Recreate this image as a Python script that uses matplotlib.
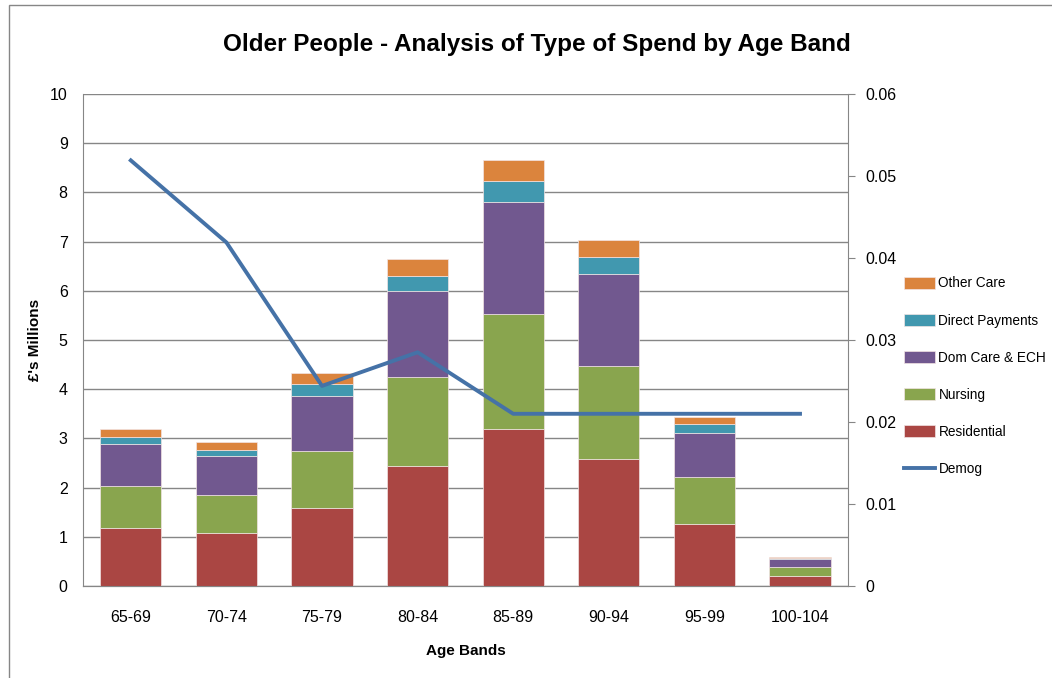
import matplotlib
matplotlib.use('agg')
import matplotlib.pyplot as plt
import numpy as np
from matplotlib.patches import Rectangle

ageBands = ['65-69', '70-74', '75-79', '80-84', '85-89', '90-94', '95-99', '100-104']
residential = [1.18, 1.08, 1.59, 2.44, 3.19, 2.59, 1.27, 0.21]
nursing = [0.85, 0.77, 1.16, 1.80, 2.33, 1.88, 0.94, 0.18]
domCare = [0.85, 0.80, 1.12, 1.76, 2.28, 1.87, 0.90, 0.15]
directPayments = [0.15, 0.12, 0.23, 0.31, 0.43, 0.34, 0.18, 0.035]
otherCare = [0.16, 0.16, 0.22, 0.34, 0.42, 0.35, 0.15, 0.02]
demog = [0.0519, 0.0419, 0.0244, 0.0285, 0.021, 0.021, 0.021, 0.021]

plt.rcParams['font.family'] = ['Liberation Sans', 'DejaVu Sans']

fig = plt.figure(figsize=(10.52, 6.78), dpi=100)
ax = fig.add_axes([0.0789, 0.1357, 0.727, 0.7257])
ax2 = ax.twinx()

x = np.arange(len(ageBands))
width = 0.64
series = [
    ('Residential', residential, '#AA4643'),
    ('Nursing', nursing, '#89A54E'),
    ('Dom Care & ECH', domCare, '#71588F'),
    ('Direct Payments', directPayments, '#4198AF'),
    ('Other Care', otherCare, '#DB843D'),
]
bottom = np.zeros(len(ageBands))
handles = {}
for name, vals, col in series:
    b = ax.bar(x, vals, width, bottom=bottom, color=col, edgecolor='#f2e4e4',
               linewidth=0.5, label=name, zorder=3)
    handles[name] = b
    bottom += np.array(vals)

line, = ax2.plot(x, demog, color='#4572A7', linewidth=2.8, label='Demog', zorder=4)

ax.set_xlim(-0.5, len(ageBands) - 0.5)
ax.set_ylim(0, 10)
ax.set_yticks(range(0, 11))
ax2.set_ylim(0, 0.06)
ax2.set_yticks([0, 0.01, 0.02, 0.03, 0.04, 0.05, 0.06])
ax2.set_yticklabels(['0', '0.01', '0.02', '0.03', '0.04', '0.05', '0.06'])
ax.set_xticks(x)
ax.set_xticklabels(ageBands)

ax.grid(axis='y', color='#868686', linewidth=1.0, zorder=0)
ax.set_axisbelow(True)
for a in (ax, ax2):
    a.spines['top'].set_visible(False)
    a.spines['left'].set_color('#868686')
    a.spines['right'].set_color('#868686')
    a.spines['bottom'].set_color('#868686')
ax.spines['right'].set_visible(False)
ax2.spines['left'].set_visible(False)
ax.tick_params(axis='y', length=0, labelsize=11.5, pad=11)
ax.tick_params(axis='x', length=0, labelsize=11.5, pad=17)
ax2.tick_params(axis='y', length=5, color='#868686', labelsize=11.5, pad=8)

ax.set_ylabel("£'s Millions", fontsize=11, fontweight='bold', labelpad=6)
ax.set_xlabel('Age Bands', fontsize=11, fontweight='bold', labelpad=14)
fig.suptitle('Older People - Analysis of Type of Spend by Age Band', fontsize=17.5,
             fontweight='bold', x=0.51, y=0.952)

order = ['Other Care', 'Direct Payments', 'Dom Care & ECH', 'Nursing', 'Residential']
legHandles = [handles[n] for n in order] + [line]
fig.legend(legHandles, order + ['Demog'], loc='center left', bbox_to_anchor=(0.859, 0.445),
           frameon=False, fontsize=9.8, handlelength=2.3, handleheight=1.0,
           labelspacing=1.7, handletextpad=0.25, borderaxespad=0, borderpad=0)

fig.patches.append(Rectangle((0.009, -0.01), 1.2, 1.003, transform=fig.transFigure,
                             fill=False, edgecolor='#868686', linewidth=1.0))

plt.savefig('out.png', dpi=100)
